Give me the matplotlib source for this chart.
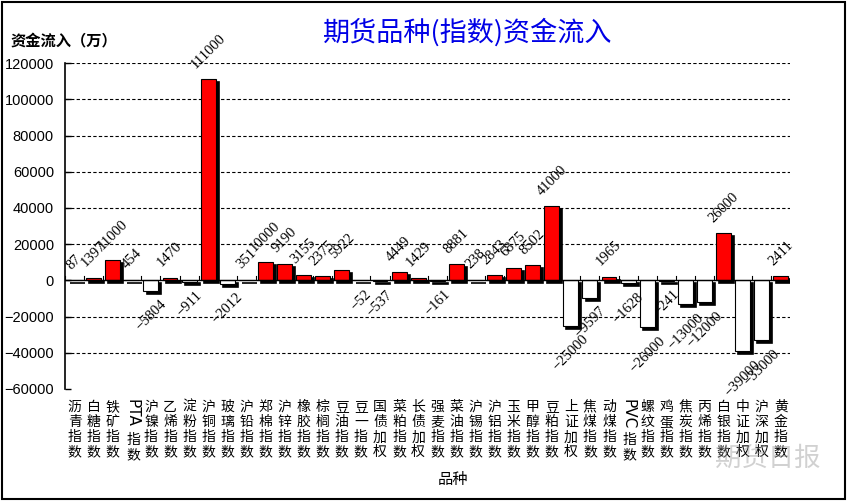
#期货品种(指数)资金流入 柱状图
import matplotlib.pyplot as plt
from matplotlib.patches import Rectangle
import matplotlib.transforms as mtransforms

plt.rcParams['font.family'] = ['Noto Sans CJK SC', 'DejaVu Sans']

#数据
categories = ['沥青指数', '白糖指数', '铁矿指数', 'PTA指数', '沪镍指数', '乙烯指数', '淀粉指数',
              '沪铜指数', '玻璃指数', '沪铅指数', '郑棉指数', '沪锌指数', '橡胶指数', '棕榈指数',
              '豆油指数', '豆一指数', '国债加权', '菜粕指数', '长债加权', '强麦指数', '菜油指数',
              '沪锡指数', '沪铝指数', '玉米指数', '甲醇指数', '豆粕指数', '上证加权', '焦煤指数',
              '动煤指数', 'PVC指数', '螺纹指数', '鸡蛋指数', '焦炭指数', '丙烯指数', '白银指数',
              '中证加权', '沪深加权', '黄金指数']
values = [87, 1397, 11000, 454, -5804, 1470, -911,
          111000, -2012, 351, 10000, 9190, 3155, 2375,
          5922, -52, -537, 4449, 1429, -161, 8881,
          238, 2843, 6875, 8502, 41000, -25000, -9597,
          1965, -1628, -26000, -241, -13000, -12000, 26000,
          -39000, -33000, 2411]
yticks = [-60000, -40000, -20000, 0, 20000, 40000, 60000, 80000, 100000, 120000]

fig = plt.figure(figsize=(8.48, 5.01), dpi=100)
ax = fig.add_axes([0.0767, 0.2236, 0.8553, 0.6504])

n = len(categories)
width = 0.78
dx = 0.16      # 阴影偏移(x)
dy = 1650      # 阴影偏移(y)

#阴影
for i, v in enumerate(values):
    lo, hi = min(0, v), max(0, v)
    ax.add_patch(Rectangle((i - width / 2 + dx, lo - dy), width, hi - lo,
                           facecolor='black', edgecolor='black', lw=1.2, zorder=2))
#柱子
for i, v in enumerate(values):
    color = '#ff0000' if v >= 0 else 'white'
    lo, hi = min(0, v), max(0, v)
    ax.add_patch(Rectangle((i - width / 2, lo), width, hi - lo,
                           facecolor=color, edgecolor='black', lw=0.8, zorder=3))

#数值标签
for i, v in enumerate(values):
    if v >= 0:
        ax.annotate(str(v), (i, v), xytext=(0, 6), textcoords='offset points',
                    rotation=45, ha='center', va='bottom', fontsize=10.5,
                    family='Liberation Serif', zorder=5)
    else:
        ax.annotate(str(v).replace('-', '\u2212'), (i, v), xytext=(0, -5),
                    textcoords='offset points', rotation=45, ha='center', va='top',
                    fontsize=10.5, family='Liberation Serif', zorder=5)

ax.set_xlim(-0.5, n - 0.5)
ax.set_ylim(-60000, 120000)
ax.set_yticks(yticks)
ax.set_yticklabels([str(t).replace('-', '\u2212') for t in yticks],
                   family='Liberation Sans', fontsize=10.5)
ax.tick_params(axis='y', direction='in', length=4, width=1, pad=8)
for t in yticks:
    if t not in (0, -60000):
        ax.axhline(t, color='black', lw=0.8, ls=(0, (3, 2)), zorder=1)
ax.axhline(0, color='black', lw=1, zorder=4)
ax.set_xticks([])
for i in range(n + 1):
    ax.plot([i - 0.5, i - 0.5], [0, 2200], color='black', lw=0.8, zorder=4)

for s in ['top', 'right', 'bottom']:
    ax.spines[s].set_visible(False)
ax.spines['left'].set_linewidth(1.2)

#x轴标签(竖排)
trans = mtransforms.blended_transform_factory(ax.transData, ax.transAxes)
for i, name in enumerate(categories):
    if name.startswith('PTA') or name.startswith('PVC'):
        ax.annotate(name[:3], (i, 0), xycoords=trans, xytext=(0, -7),
                    textcoords='offset points', rotation=-90, ha='center', va='top',
                    fontsize=11, family='DejaVu Sans')
        ax.annotate('指\n数', (i, 0), xycoords=trans, xytext=(1, -32),
                    textcoords='offset points', ha='center', va='top',
                    fontsize=10, linespacing=1.1)
    else:
        ax.annotate('\n'.join(name), (i, 0), xycoords=trans, xytext=(0, -8),
                    textcoords='offset points', ha='center', va='top',
                    fontsize=10, linespacing=1.1)

fig.text(0.534, 0.042, '品种', ha='center', va='center', fontsize=11)
fig.text(0.551, 0.935, '期货品种(指数)资金流入', ha='center', va='center',
         fontsize=19.5, color='#0000e6')
fig.text(0.012, 0.92, '资金流入（万）', ha='left', va='center', fontsize=11,
         fontweight='bold')
fig.text(0.905, 0.085, '期货日报', ha='center', va='center', fontsize=19,
         color='#999999', alpha=0.45)

fig.patches.append(Rectangle((0.002, 0.003), 0.995, 0.993, transform=fig.transFigure,
                             fill=False, edgecolor='black', lw=1.5))

plt.savefig('out.png', dpi=100)
